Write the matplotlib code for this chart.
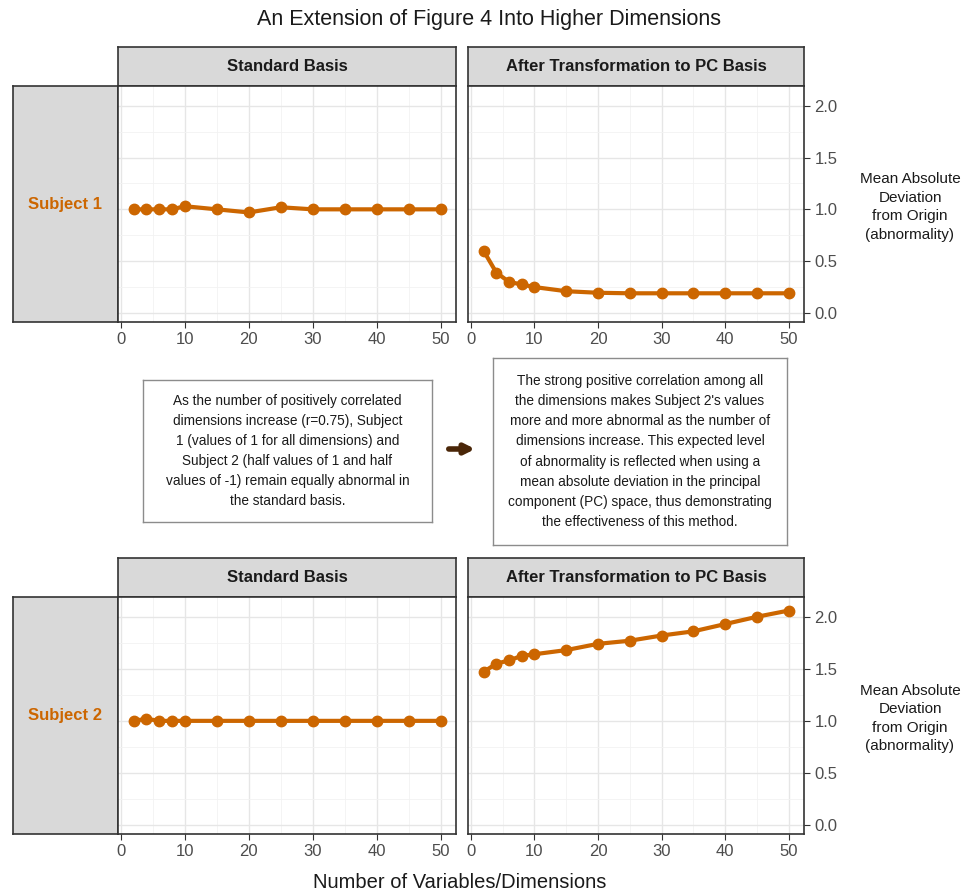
import numpy as np
import matplotlib
matplotlib.use("Agg")
import matplotlib.pyplot as plt
from matplotlib.patches import FancyArrowPatch

plt.rcParams['font.family'] = ['Liberation Sans', 'DejaVu Sans']

# data
dims = [2, 4, 6, 8, 10, 15, 20, 25, 30, 35, 40, 45, 50]
s1_standard = [1.0, 1.0, 1.0, 1.0, 1.03, 1.0, 0.97, 1.02, 1.0, 1.0, 1.0, 1.0, 1.0]
s1_pc = [0.60, 0.39, 0.30, 0.275, 0.25, 0.21, 0.195, 0.19, 0.19, 0.19, 0.19, 0.19, 0.19]
s2_standard = [1.0, 1.02, 1.0, 1.0, 1.0, 1.0, 1.0, 1.0, 1.0, 1.0, 1.0, 1.0, 1.0]
s2_pc = [1.47, 1.55, 1.58, 1.625, 1.64, 1.68, 1.74, 1.77, 1.82, 1.86, 1.93, 2.0, 2.06]

col_titles = ["Standard Basis", "After Transformation to PC Basis"]
row_titles = ["Subject 1", "Subject 2"]
ylabel = "Mean Absolute\nDeviation\nfrom Origin\n(abnormality)"
left_note = ("As the number of positively correlated\ndimensions increase (r=0.75), Subject\n"
             "1 (values of 1 for all dimensions) and\nSubject 2 (half values of 1 and half\n"
             "values of -1) remain equally abnormal in\nthe standard basis.")
right_note = ("The strong positive correlation among all\nthe dimensions makes Subject 2's values\n"
              "more and more abnormal as the number of\ndimensions increase. This expected level\n"
              "of abnormality is reflected when using a\nmean absolute deviation in the principal\n"
              "component (PC) space, thus demonstrating\nthe effectiveness of this method.")

W, H = 969, 894
ORANGE = '#CC6600'
STRIP = '#D9D9D9'
EDGE = '#333333'

fig = plt.figure(figsize=(W / 100, H / 100), dpi=100)


def box(x0, y0, x1, y1):
    return [x0 / W, 1 - y1 / H, (x1 - x0) / W, (y1 - y0) / H]


def strip(rect, text, color='#1A1A1A', size=12):
    a = fig.add_axes(box(*rect))
    a.set_facecolor(STRIP)
    a.set_xticks([]); a.set_yticks([])
    for s in a.spines.values():
        s.set_color(EDGE); s.set_linewidth(1.2)
    a.text(0.5, 0.5, text, ha='center', va='center', fontsize=size,
           fontweight='bold', color=color, transform=a.transAxes)
    return a


def panel(rect, y, right):
    a = fig.add_axes(box(*rect))
    a.plot(dims, y, color=ORANGE, lw=3, marker='o', ms=7.5, zorder=3)
    a.set_xlim(-0.45, 52.4)
    a.set_ylim(-0.087, 2.19)
    a.set_xticks([0, 10, 20, 30, 40, 50])
    a.set_xticks([5, 15, 25, 35, 45], minor=True)
    a.set_yticks([0, 0.5, 1.0, 1.5, 2.0])
    a.set_yticks([0.25, 0.75, 1.25, 1.75], minor=True)
    a.grid(True, which='major', color='#E6E6E6', lw=1.0)
    a.grid(True, which='minor', color='#F2F2F2', lw=0.6)
    a.set_axisbelow(True)
    for s in a.spines.values():
        s.set_color(EDGE); s.set_linewidth(1.2)
    a.tick_params(axis='x', which='major', labelsize=12, labelcolor='#4D4D4D',
                  color=EDGE, length=4, direction='out')
    a.tick_params(axis='both', which='minor', length=0)
    if right:
        a.yaxis.tick_right()
        a.set_yticklabels(['0.0', '0.5', '1.0', '1.5', '2.0'])
        a.tick_params(axis='y', which='major', labelsize=12, labelcolor='#4D4D4D',
                      color=EDGE, length=4, direction='out', right=True, left=False)
    else:
        a.tick_params(axis='y', which='major', left=False, labelleft=False)
    return a


fig.text(489 / W, 1 - 20 / H, "An Extension of Figure 4 Into Higher Dimensions",
         ha='center', va='center', fontsize=15.5, color='#1A1A1A')

rows = [(47, 86, 322, s1_standard, s1_pc), (558, 597, 834, s2_standard, s2_pc)]
for i, (st, top, bot, ys, yp) in enumerate(rows):
    strip((118, st, 456, top), col_titles[0])
    strip((468, st, 804, top), col_titles[1])
    strip((13, top, 118, bot), row_titles[i], color=ORANGE, size=12)
    panel((118, top, 456, bot), ys, False)
    panel((468, top, 804, bot), yp, True)
    fig.text(910 / W, 1 - ((top + bot) / 2 + 3) / H, ylabel, ha='center', va='center',
             fontsize=11, color='#1A1A1A', linespacing=1.4)

fig.text(460 / W, 1 - 882 / H, "Number of Variables/Dimensions", ha='center',
         va='center', fontsize=14.5, color='#1A1A1A')

# annotation boxes
for (x0, y0, x1, y1), txt in [((143, 380, 432, 522), left_note),
                              ((493, 358, 787, 545), right_note)]:
    a = fig.add_axes(box(x0, y0, x1, y1))
    a.set_xticks([]); a.set_yticks([])
    for s in a.spines.values():
        s.set_color('#8C8C8C'); s.set_linewidth(1.0)
    a.text(0.5, 0.5, txt, ha='center', va='center', fontsize=9.8,
           linespacing=1.55, color='#1A1A1A', transform=a.transAxes)

arrow = FancyArrowPatch((446 / W, 1 - 449 / H), (478 / W, 1 - 449 / H),
                        transform=fig.transFigure, arrowstyle='-|>',
                        mutation_scale=14, lw=4, color='#4A2608')
fig.add_artist(arrow)

fig.savefig("out.png", dpi=100)
